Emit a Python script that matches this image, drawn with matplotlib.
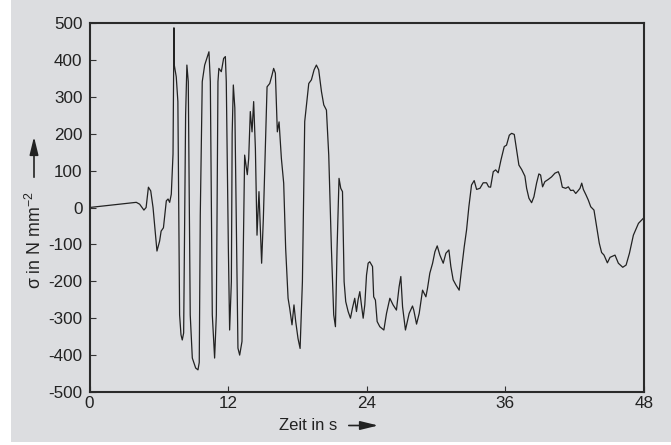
import matplotlib
matplotlib.use("Agg")
import matplotlib.pyplot as plt

plt.rcParams['font.family'] = ['Liberation Sans', 'DejaVu Sans']
plt.rcParams['axes.unicode_minus'] = False
plt.rcParams['mathtext.fontset'] = 'custom'
plt.rcParams['mathtext.rm'] = 'Liberation Sans'
plt.rcParams['mathtext.it'] = 'Liberation Sans'

# time in s
t = [0, 4.05, 4.34, 4.71, 4.9, 5.1, 5.3, 5.5, 5.84, 6.07, 6.2, 6.4, 6.65, 6.8, 6.94, 7.08,
     7.23, 7.31, 7.34, 7.51, 7.65, 7.8, 7.92, 8.03, 8.15, 8.32, 8.43, 8.55, 8.72, 8.9,
     9.19, 9.39, 9.5, 9.59, 9.76, 9.97, 10.34, 10.46, 10.63, 10.83, 10.98, 11.12, 11.2,
     11.41, 11.61, 11.76, 11.84, 12.02, 12.13, 12.28, 12.35, 12.45, 12.58, 12.85, 13.0,
     13.2, 13.43, 13.58, 13.66, 13.78, 13.92, 14.07, 14.21, 14.36, 14.5, 14.67, 14.79,
     14.9, 15.05, 15.22, 15.37, 15.6, 15.8, 15.94, 16.09, 16.26, 16.41, 16.61, 16.81,
     16.98, 17.19, 17.33, 17.53, 17.7, 17.85, 18.05, 18.23, 18.43, 18.63, 18.78, 18.98,
     19.21, 19.44, 19.64, 19.84, 20.08, 20.28, 20.51, 20.71, 20.94, 21.14, 21.29, 21.43,
     21.6, 21.75, 21.9, 22.04, 22.18, 22.39, 22.59, 22.76, 22.96, 23.11, 23.25, 23.4,
     23.54, 23.69, 23.83, 23.98, 24.12, 24.26,
     24.5, 24.6, 24.75, 24.9, 25.13, 25.48, 25.71, 26.0, 26.28, 26.57, 26.8, 26.95, 27.1,
     27.35, 27.67, 27.96, 28.07, 28.31, 28.54, 28.83, 28.97, 29.12, 29.26, 29.46, 29.7, 29.9,
     30.1, 30.33, 30.62, 30.85, 31.11, 31.28, 31.48, 31.72, 32.0, 32.2, 32.44, 32.64, 32.84,
     33.07, 33.3, 33.51, 33.8, 34.08, 34.37, 34.55, 34.72, 34.95, 35.16, 35.38, 35.62, 35.9,
     36.1, 36.34, 36.54, 36.77, 36.97, 37.17, 37.41, 37.69, 37.84, 38.04, 38.27, 38.47, 38.7,
     38.9, 39.05, 39.22, 39.42, 39.71, 40.0, 40.29, 40.58, 40.73, 40.93, 41.22, 41.45, 41.65,
     41.88, 42.09, 42.31, 42.46, 42.61, 42.75, 42.98, 43.18, 43.39, 43.67, 43.9, 44.13, 44.33,
     44.54, 44.83, 45.06, 45.49, 45.78, 46.16, 46.45, 46.74, 47.08, 47.52, 47.95]

# stress in N/mm^2
sigma = [0, 14, 9, -7, 0, 55, 45, 0, -118, -91, -64, -55, 18, 23, 14, 36,
         145, 487, 386, 354, 287, -291, -345, -359, -340, 251, 386, 341, -291, -408,
         -435, -440, -420, -20, 341, 386, 422, 341, -291, -408, -291, 341, 377,
         368, 404, 409, 341, -110, -332, -201, 200, 332, 270, -381, -400,
         -363, 142, 107, 89, 133, 260, 205, 287, 160, -75, 43, -56,
         -151, -29, 160, 327, 336, 359, 377, 364, 205, 232, 133, 66,
         -111, -246, -273, -318, -264, -309, -355, -382, -201, 233, 278, 336,
         346, 373, 386, 373, 314, 278, 264, 142, -111, -291, -323, -111,
         79, 52, 43, -201, -255, -282, -300, -273, -246, -282, -250, -228,
         -264, -300, -264, -183, -151, -147,
         -160, -242, -251, -309, -323, -332, -287, -246, -264, -278, -215, -187, -269,
         -332, -287, -267, -278, -316, -287, -224, -233, -242, -219, -178, -151, -120,
         -104, -129, -151, -124, -115, -160, -196, -210, -224, -169, -106, -61, 2,
         61, 73, 49, 52, 67, 67, 56, 55, 97, 102, 94, 129, 165,
         169, 196, 201, 198, 156, 115, 103, 85, 52, 25, 13, 29, 66,
         91, 88, 56, 70, 76, 83, 93, 97, 85, 55, 52, 56, 46,
         47, 38, 46, 52, 66, 49, 34, 20, 2, -7, -52, -97, -122,
         -129, -150, -135, -129, -151, -162, -156, -124, -75, -43, -29]

xticks = [0, 12, 24, 36, 48]
yticks = [-500, -400, -300, -200, -100, 0, 100, 200, 300, 400, 500]

W, H = 671, 445
bg = '#dcdde0'
ink = '#222222'
fig = plt.figure(figsize=(W / 100, H / 100), dpi=100, facecolor='white')


def fx(px):
    return px / W


def fy(py):
    return 1 - py / H


# gray panel
fig.patches.append(plt.Rectangle((fx(11), fy(442)), 1 - fx(11), fy(0) - fy(442),
                                 transform=fig.transFigure, facecolor=bg,
                                 edgecolor='none', zorder=-10))

ax = fig.add_axes([fx(89.5), fy(392), fx(644) - fx(89.5), fy(23) - fy(392)])
ax.set_facecolor(bg)
ax.plot(t, sigma, color=ink, lw=0.9, solid_joinstyle='round')
ax.set_xlim(0, 48)
ax.set_ylim(-500, 500)
ax.set_xticks(xticks)
ax.set_yticks(yticks)
ax.set_xticklabels([str(v) for v in xticks])
ax.set_yticklabels([str(v) for v in yticks])
ax.tick_params(direction='in', length=4.5, width=0.8, color='#333333',
               labelsize=12.3, labelcolor=ink)
ax.tick_params(axis='y', pad=5)
ax.tick_params(axis='x', pad=3)
for s in ax.spines.values():
    s.set_linewidth(1.5)
    s.set_color('#2a2a2a')

# axis labels with arrows
fig.text(fx(308), fy(425), 'Zeit in s', ha='center', va='center', fontsize=12,
         color=ink)
fig.add_artist(matplotlib.patches.FancyArrowPatch(
    (fx(346), fy(425.5)), (fx(381), fy(425.5)), transform=fig.transFigure,
    arrowstyle='-|>,head_length=0.9,head_width=0.22', mutation_scale=12,
    color=ink, lw=1.2))

fig.text(fx(35), fy(240), r'σ in N mm$^{-2}$', ha='center', va='center',
         rotation=90, fontsize=12.8, color=ink)
fig.add_artist(matplotlib.patches.FancyArrowPatch(
    (fx(34), fy(180)), (fx(34), fy(134)), transform=fig.transFigure,
    arrowstyle='-|>,head_length=0.9,head_width=0.22', mutation_scale=12,
    color=ink, lw=1.2))

fig.savefig('out.png', dpi=100, facecolor='white')
